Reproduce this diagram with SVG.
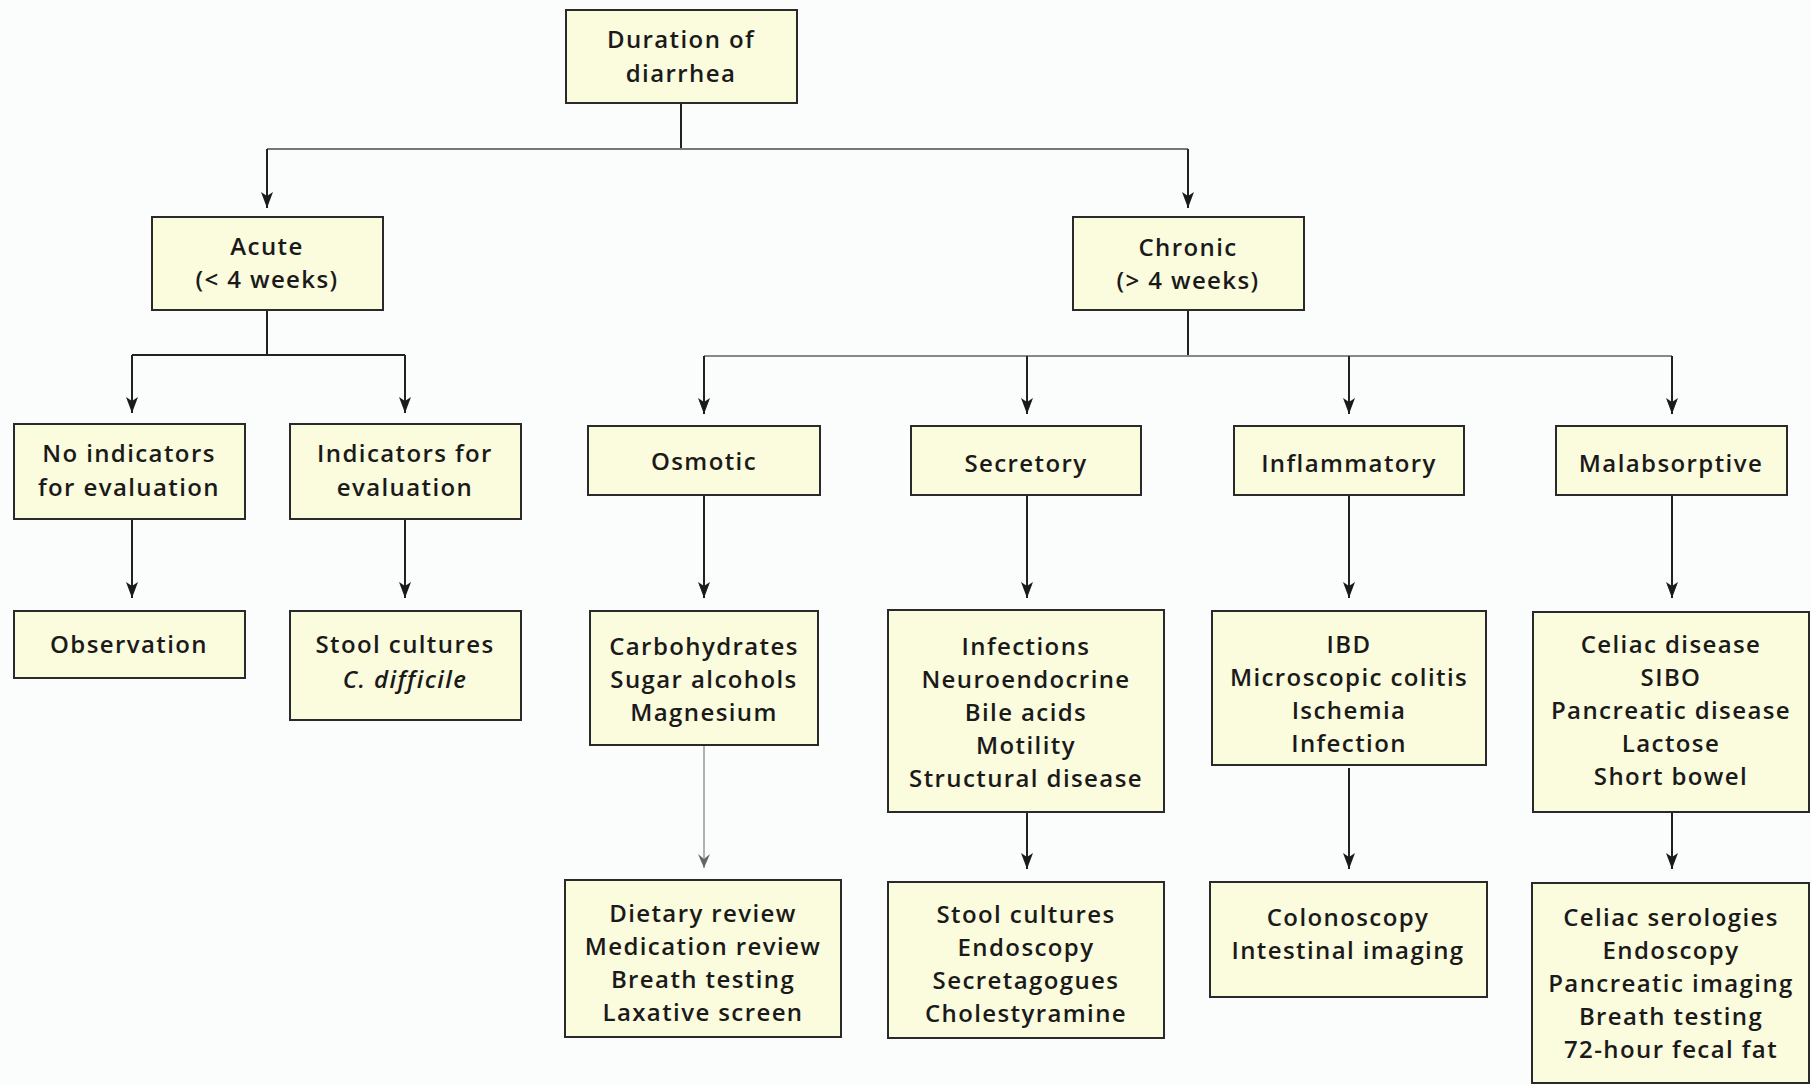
<svg xmlns="http://www.w3.org/2000/svg" width="1811" height="1085" viewBox="0 0 1811 1085">
<defs>
<marker id="ah" markerUnits="userSpaceOnUse" markerWidth="16" markerHeight="14" refX="16" refY="7" orient="auto" viewBox="0 0 16 14">
<path d="M0,1 L16,7 L0,13 L4,7 Z" fill="#1a1a1a"/>
</marker>
<marker id="ahg" markerUnits="userSpaceOnUse" markerWidth="14" markerHeight="12" refX="14" refY="6" orient="auto" viewBox="0 0 14 12">
<path d="M0,0 L14,6 L0,12 L5,6 Z" fill="#666"/>
</marker>
</defs>
<style>
.box{fill:#fbfbdd;stroke:#2a2a2a;stroke-width:2}
.t{font-family:"Open Sans","Noto Sans",sans-serif;font-size:24px;font-weight:600;letter-spacing:1.4px;fill:#1a1a1a;text-anchor:middle}
.ln{fill:none;stroke:#222;stroke-width:2}
.arr{fill:none;stroke:#222;stroke-width:2;marker-end:url(#ah)}
</style>
<rect width="1811" height="1085" fill="#fbfcfc"/>
<g id="connectors">
<polyline class="ln" points="681,103 681,149"/>
<polyline class="ln" points="267,149 1188,149" style="stroke:#777"/>
<polyline class="arr" points="267,149 267,208"/>
<polyline class="arr" points="1188,149 1188,208"/>
<polyline class="ln" points="267,310 267,355"/>
<polyline class="ln" points="132,355 405,355"/>
<polyline class="arr" points="132,355 132,413"/>
<polyline class="arr" points="405,355 405,413"/>
<polyline class="ln" points="1188,310 1188,356"/>
<polyline class="ln" points="704,356 1672,356" style="stroke:#888"/>
<polyline class="arr" points="704,356 704,414"/>
<polyline class="arr" points="1027,356 1027,414"/>
<polyline class="arr" points="1349,356 1349,414"/>
<polyline class="arr" points="1672,356 1672,414"/>
<polyline class="arr" points="132,519 132,598"/>
<polyline class="arr" points="405,519 405,598"/>
<polyline class="arr" points="704,495 704,598"/>
<polyline class="arr" points="1027,495 1027,598"/>
<polyline class="arr" points="1349,495 1349,598"/>
<polyline class="arr" points="1672,495 1672,598"/>
<polyline points="704,745 704,868" style="fill:none;stroke:#999;stroke-width:1.5;marker-end:url(#ahg)"/>
<polyline class="arr" points="1027,812 1027,869"/>
<polyline class="arr" points="1349,768 1349,869"/>
<polyline class="arr" points="1672,812 1672,869"/>
</g>
<g id="n-duration"><rect class="box" x="566" y="10" width="231" height="93"/><text class="t" x="681" y="48">Duration of</text><text class="t" x="681" y="82">diarrhea</text></g>
<g id="n-acute"><rect class="box" x="152" y="217" width="231" height="93"/><text class="t" x="267" y="255">Acute</text><text class="t" x="267" y="288">(&lt; 4 weeks)</text></g>
<g id="n-chronic"><rect class="box" x="1073" y="217" width="231" height="93"/><text class="t" x="1188" y="256">Chronic</text><text class="t" x="1188" y="289">(&gt; 4 weeks)</text></g>
<g id="n-noind"><rect class="box" x="14" y="424" width="231" height="95"/><text class="t" x="129" y="462">No indicators</text><text class="t" x="129" y="496">for evaluation</text></g>
<g id="n-ind"><rect class="box" x="290" y="424" width="231" height="95"/><text class="t" x="405" y="462">Indicators for</text><text class="t" x="405" y="496">evaluation</text></g>
<g id="n-osmotic"><rect class="box" x="588" y="426" width="232" height="69"/><text class="t" x="704" y="470">Osmotic</text></g>
<g id="n-secretory"><rect class="box" x="911" y="426" width="230" height="69"/><text class="t" x="1026" y="472">Secretory</text></g>
<g id="n-inflammatory"><rect class="box" x="1234" y="426" width="230" height="69"/><text class="t" x="1349" y="472">Inflammatory</text></g>
<g id="n-malabsorptive"><rect class="box" x="1556" y="426" width="231" height="69"/><text class="t" x="1671" y="472">Malabsorptive</text></g>
<g id="n-observation"><rect class="box" x="14" y="611" width="231" height="67"/><text class="t" x="129" y="653">Observation</text></g>
<g id="n-stool1"><rect class="box" x="290" y="611" width="231" height="109"/><text class="t" x="405" y="653">Stool cultures</text><text class="t" x="405" y="688"><tspan font-style="italic">C. difficile</tspan></text></g>
<g id="n-osm-list"><rect class="box" x="590" y="611" width="228" height="134"/><text class="t" x="704" y="655">Carbohydrates</text><text class="t" x="704" y="688">Sugar alcohols</text><text class="t" x="704" y="721">Magnesium</text></g>
<g id="n-sec-list"><rect class="box" x="888" y="610" width="276" height="202"/><text class="t" x="1026" y="655">Infections</text><text class="t" x="1026" y="688">Neuroendocrine</text><text class="t" x="1026" y="721">Bile acids</text><text class="t" x="1026" y="754">Motility</text><text class="t" x="1026" y="787">Structural disease</text></g>
<g id="n-inf-list"><rect class="box" x="1212" y="611" width="274" height="154"/><text class="t" x="1349" y="653">IBD</text><text class="t" x="1349" y="686">Microscopic colitis</text><text class="t" x="1349" y="719">Ischemia</text><text class="t" x="1349" y="752">Infection</text></g>
<g id="n-mal-list"><rect class="box" x="1533" y="612" width="276" height="200"/><text class="t" x="1671" y="653">Celiac disease</text><text class="t" x="1671" y="686">SIBO</text><text class="t" x="1671" y="719">Pancreatic disease</text><text class="t" x="1671" y="752">Lactose</text><text class="t" x="1671" y="785">Short bowel</text></g>
<g id="n-osm-tests"><rect class="box" x="565" y="880" width="276" height="157"/><text class="t" x="703" y="922">Dietary review</text><text class="t" x="703" y="955">Medication review</text><text class="t" x="703" y="988">Breath testing</text><text class="t" x="703" y="1021">Laxative screen</text></g>
<g id="n-sec-tests"><rect class="box" x="888" y="882" width="276" height="156"/><text class="t" x="1026" y="923">Stool cultures</text><text class="t" x="1026" y="956">Endoscopy</text><text class="t" x="1026" y="989">Secretagogues</text><text class="t" x="1026" y="1022">Cholestyramine</text></g>
<g id="n-inf-tests"><rect class="box" x="1210" y="882" width="277" height="115"/><text class="t" x="1348" y="926">Colonoscopy</text><text class="t" x="1348" y="959">Intestinal imaging</text></g>
<g id="n-mal-tests"><rect class="box" x="1532" y="883" width="277" height="200"/><text class="t" x="1671" y="926">Celiac serologies</text><text class="t" x="1671" y="959">Endoscopy</text><text class="t" x="1671" y="992">Pancreatic imaging</text><text class="t" x="1671" y="1025">Breath testing</text><text class="t" x="1671" y="1058">72-hour fecal fat</text></g>
</svg>
